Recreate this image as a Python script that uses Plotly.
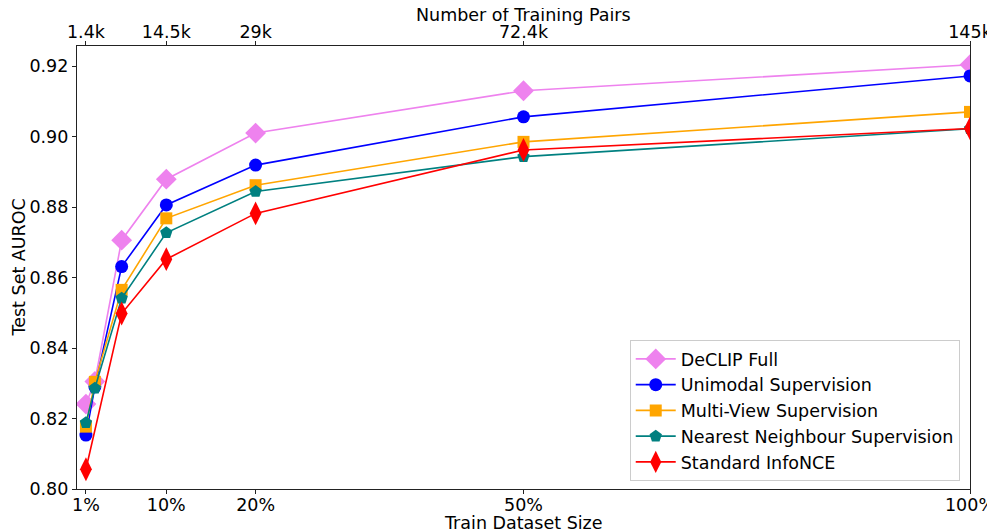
import plotly.graph_objects as go

train_pct = [1, 2, 5, 10, 20, 50, 100]
train_pct_infonce = [1, 5, 10, 20, 50, 100]
top_tick_pct = [1, 10, 20, 50, 100]
top_tick_labels = ["1.4k", "14.5k", "29k", "72.4k", "145k"]
bottom_tick_labels = ["1%", "10%", "20%", "50%", "100%"]
y_ticks = [0.80, 0.82, 0.84, 0.86, 0.88, 0.90, 0.92]

declip_full = [0.8241, 0.8305, 0.8706, 0.8879, 0.9010, 0.9130, 0.9204]
unimodal = [0.8153, 0.8290, 0.8631, 0.8806, 0.8919, 0.9056, 0.9172]
multiview = [0.8177, 0.8304, 0.8565, 0.8768, 0.8862, 0.8985, 0.9070]
nearest_nb = [0.8188, 0.8286, 0.8541, 0.8727, 0.8844, 0.8943, 0.9022]
infonce = [0.8056, 0.8498, 0.8652, 0.8782, 0.8962, 0.9023]

FONT = "DejaVu Sans"
FS = 17.5
fig = go.Figure()

series = [
    ("DeCLIP Full", train_pct, declip_full, "violet", "diamond", 16),
    ("Unimodal Supervision", train_pct, unimodal, "blue", "circle", 13),
    ("Multi-View Supervision", train_pct, multiview, "orange", "square", 12),
    ("Nearest Neighbour Supervision", train_pct, nearest_nb, "teal", "pentagon", 13),
    ("Standard InfoNCE", train_pct_infonce, infonce, "red", "diamond-tall", 17),
]
for name, xs, ys, col, sym, sz in series:
    fig.add_trace(go.Scatter(
        x=xs, y=ys, name=name, mode="lines+markers",
        line=dict(color=col, width=1.6),
        marker=dict(color=col, symbol=sym, size=sz, line=dict(width=0)),
        cliponaxis=True,
    ))

axis_common = dict(
    showgrid=False, zeroline=False, showline=True, linecolor="#222", linewidth=1.2,
    ticks="outside", ticklen=4, tickwidth=1, tickcolor="#222", automargin=False,
    tickfont=dict(family=FONT, size=FS, color="black"),
)

# page body has an 8px margin; margins compensate so the plot area sits where the reference has it
fig.update_layout(
    width=995, height=531,
    margin=dict(l=69, r=33, t=38, b=50, autoexpand=False),
    paper_bgcolor="white", plot_bgcolor="white",
    font=dict(family=FONT, size=FS, color="black"),
    xaxis=dict(range=[0, 100], tickvals=top_tick_pct, ticktext=bottom_tick_labels,
               ticklabelstandoff=-4, **axis_common),
    xaxis2=dict(
        range=[0, 100], overlaying="x", side="top", anchor="y",
        tickvals=top_tick_pct, ticktext=top_tick_labels, ticklabelstandoff=-4, **axis_common,
    ),
    yaxis=dict(range=[0.80, 0.9257], tickvals=y_ticks, tickformat=".2f", mirror=True, **axis_common),
    legend=dict(
        x=0.9885, y=0.018, xanchor="right", yanchor="bottom",
        bgcolor="rgba(255,255,255,0.8)", bordercolor="#cccccc", borderwidth=1,
        font=dict(family=FONT, size=FS), itemwidth=40,
    ),
    showlegend=True,
)

title_font = dict(family=FONT, size=FS, color="black")
fig.add_annotation(text="Train Dataset Size", xref="paper", yref="paper", x=0.5, y=0,
                   xanchor="center", yanchor="middle", yshift=-34, showarrow=False, font=title_font)
fig.add_annotation(text="Number of Training Pairs", xref="paper", yref="paper", x=0.5, y=1,
                   xanchor="center", yanchor="middle", yshift=31, showarrow=False, font=title_font)
fig.add_annotation(text="Test Set AUROC", xref="paper", yref="paper", x=0, y=0.5, textangle=-90,
                   xanchor="center", yanchor="middle", xshift=-59, showarrow=False, font=title_font)

# reference for the top axis (no visible marks)
fig.add_trace(go.Scatter(x=top_tick_pct, y=[None] * len(top_tick_pct), xaxis="x2",
                         showlegend=False, hoverinfo="skip"))

fig.write_html("out.html")
